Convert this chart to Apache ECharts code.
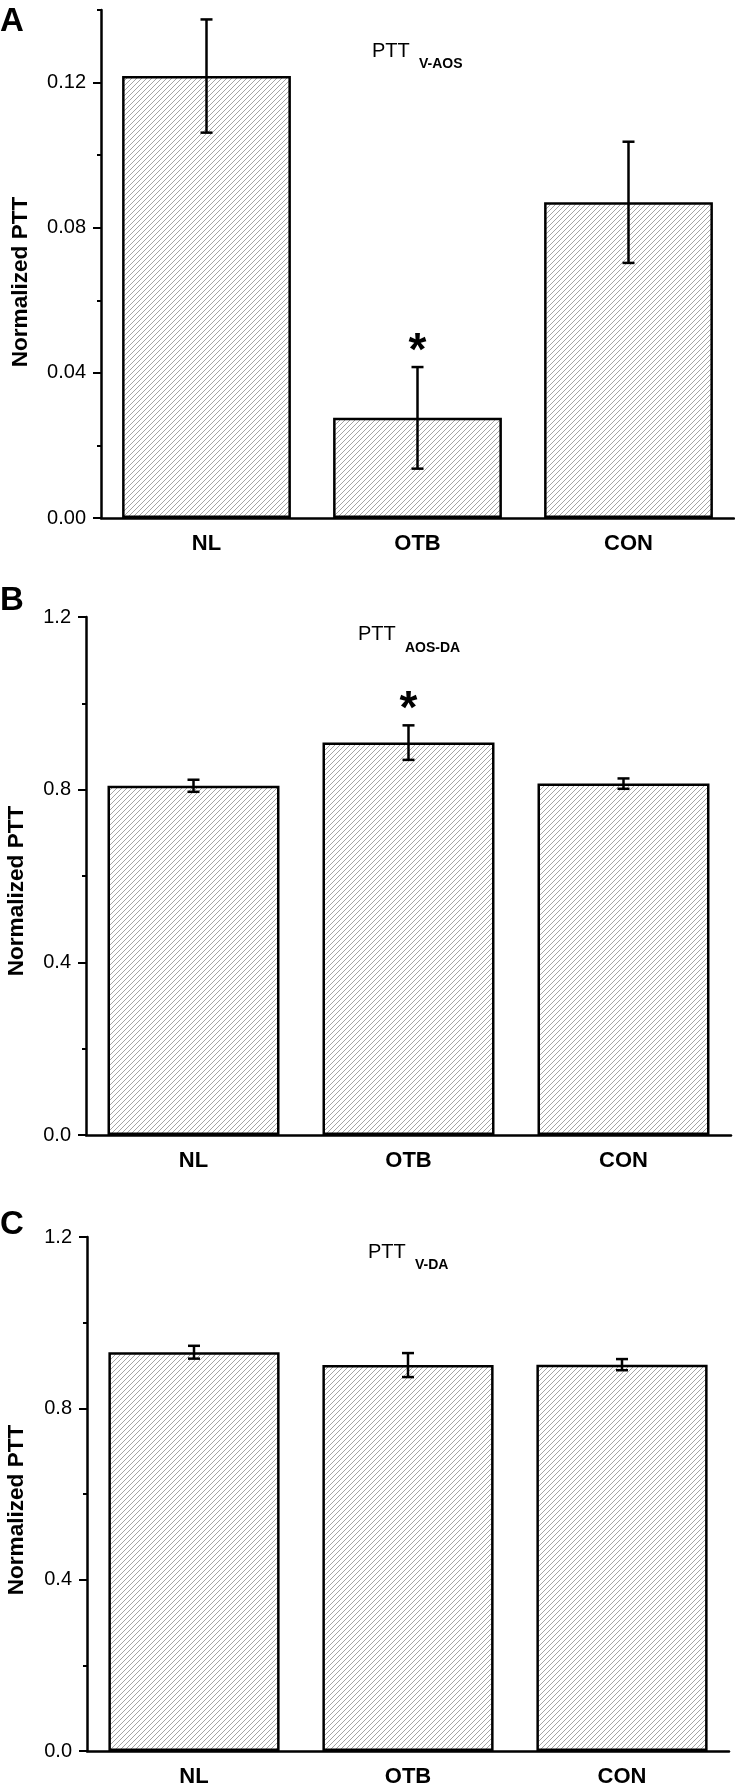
<!DOCTYPE html>
<html><head><meta charset="utf-8">
<script src="https://cdn.jsdelivr.net/npm/echarts@6/dist/echarts.min.js"></script>
<style>html,body{margin:0;padding:0;background:#fff}#c{width:735px;height:1788px}</style>
</head><body><div id="c"></div>
<script>
// ---------- data ----------
const categories = ['NL', 'OTB', 'CON'];
const meanA = [0.1218, 0.0276, 0.0870];
const errA  = [0.0156, 0.0140, 0.0167];
const sigA  = ['', '*', ''];
const meanB = [0.809, 0.909, 0.814];
const errB  = [0.014, 0.040, 0.012];
const sigB  = ['', '*', ''];
const meanC = [0.931, 0.901, 0.902];
const errC  = [0.015, 0.028, 0.013];
const sigC  = ['', '', ''];
const majorTicksA = [0, 0.04, 0.08, 0.12];
const minorTicksA = [0.02, 0.06, 0.10, 0.14];
const majorTicksBC = [0, 0.4, 0.8, 1.2];
const minorTicksBC = [0.2, 0.6, 1.0];
const panelLetters = ['A', 'B', 'C'];
const titleSubs = ['V-AOS', 'AOS-DA', 'V-DA'];
const yName = 'Normalized PTT';

// ---------- styling ----------
const FF = '"Liberation Sans", Arial, sans-serif';
function hatch() {
  const n = 5, c = document.createElement('canvas');
  c.width = n; c.height = n;
  const g = c.getContext('2d');
  g.fillStyle = '#fff'; g.fillRect(0, 0, n, n);
  g.strokeStyle = '#a4a4a4'; g.lineWidth = 1;
  g.beginPath();
  g.moveTo(0, n); g.lineTo(n, 0);
  g.moveTo(-1, 1); g.lineTo(1, -1);
  g.moveTo(n - 1, n + 1); g.lineTo(n + 1, n - 1);
  g.stroke();
  return c;
}
const pattern = { image: hatch(), repeat: 'repeat' };

const grids = [
  { left: 101, top: 10, width: 633, height: 508 },
  { left: 86, top: 617, width: 645, height: 518 },
  { left: 87, top: 1237, width: 642, height: 514 }
];
const yMax = [0.14, 1.2, 1.2];
const majors = [majorTicksA, majorTicksBC, majorTicksBC];
const minors = [minorTicksA, minorTicksBC, minorTicksBC];
const digits = [2, 1, 1];
const means = [meanA, meanB, meanC];
const errs = [errA, errB, errC];
const sigs = [sigA, sigB, sigC];

const xAxis = [], yAxis = [], series = [];
grids.forEach((g, k) => {
  xAxis.push({
    type: 'category', gridIndex: k, data: categories,
    axisLine: { lineStyle: { color: '#000', width: 2.5 } },
    axisTick: { alignWithLabel: true, length: 8, lineStyle: { color: '#000', width: 2.5 } },
    axisLabel: { color: '#000', fontFamily: FF, fontWeight: 'bold', fontSize: 22, margin: 15 },
    splitLine: { show: false }
  });
  yAxis.push({
    type: 'value', gridIndex: k, position: 'left', min: 0, max: yMax[k],
    axisLine: { show: true, lineStyle: { color: '#000', width: 2.5 } },
    axisTick: { show: true, length: 8, customValues: majors[k], lineStyle: { color: '#000', width: 2 } },
    axisLabel: { color: '#000', fontFamily: FF, fontSize: 20, margin: 15,
      customValues: majors[k], formatter: v => Number(v).toFixed(digits[k]) },
    splitLine: { show: false }
  });
  yAxis.push({
    type: 'value', gridIndex: k, position: 'left', offset: 0, min: 0, max: yMax[k],
    axisLine: { show: false },
    axisTick: { show: true, length: 4, customValues: minors[k], lineStyle: { color: '#000', width: 2 } },
    axisLabel: { show: false },
    splitLine: { show: false }
  });
  series.push({
    type: 'bar', xAxisIndex: k, yAxisIndex: 2 * k, barWidth: '80%',
    data: means[k],
    itemStyle: { color: pattern, borderColor: '#000', borderWidth: 2.5 },
    silent: true
  });
  const sig = sigs[k];
  series.push({
    type: 'custom', xAxisIndex: k, yAxisIndex: 2 * k, z: 5,
    data: means[k].map((m, i) => [i, m - errs[k][i], m + errs[k][i]]),
    encode: { x: 0, y: [1, 2] },
    renderItem: function (params, api) {
      const i = api.value(0);
      const lo = api.coord([i, api.value(1)]);
      const hi = api.coord([i, api.value(2)]);
      const w = 6;
      const st = { stroke: '#000', lineWidth: 2.5 };
      const ch = [
        { type: 'line', shape: { x1: hi[0], y1: hi[1], x2: lo[0], y2: lo[1] }, style: st },
        { type: 'line', shape: { x1: hi[0] - w, y1: hi[1], x2: hi[0] + w, y2: hi[1] }, style: st },
        { type: 'line', shape: { x1: lo[0] - w, y1: lo[1], x2: lo[0] + w, y2: lo[1] }, style: st }
      ];
      const s = sig[params.dataIndex];
      if (s) ch.push({ type: 'text', x: hi[0], y: hi[1] - 15,
        style: { text: s, font: 'bold 46px ' + FF, fill: '#000', textAlign: 'center', textVerticalAlign: 'middle' } });
      return { type: 'group', children: ch };
    }
  });
});

const graphic = [];
const letterY = [5, 584, 1208];
const nameY = [282, 891, 1510];
const nameX = [21, 17, 17];
const ptt = [[372, 51], [358, 634], [368, 1252]];
const sub = [[419, 64], [405, 648], [415, 1265]];
for (let k = 0; k < 3; k++) {
  graphic.push({ type: 'text', x: 0, y: letterY[k],
    style: { text: panelLetters[k], font: 'bold 33px ' + FF, fill: '#000', textAlign: 'left', textVerticalAlign: 'top' } });
  graphic.push({ type: 'text', x: nameX[k], y: nameY[k], rotation: Math.PI / 2,
    style: { text: yName, font: 'bold 22.6px ' + FF, fill: '#000', textAlign: 'center', textVerticalAlign: 'middle' } });
  graphic.push({ type: 'text', x: ptt[k][0], y: ptt[k][1],
    style: { text: 'PTT', font: '20px ' + FF, fill: '#000', textAlign: 'left', textVerticalAlign: 'middle' } });
  graphic.push({ type: 'text', x: sub[k][0], y: sub[k][1],
    style: { text: titleSubs[k], font: 'bold 14px ' + FF, fill: '#000', textAlign: 'left', textVerticalAlign: 'middle' } });
}

const chart = echarts.init(document.getElementById('c'), null, { renderer: 'canvas' });
chart.setOption({
  animation: false,
  backgroundColor: '#fff',
  grid: grids,
  xAxis, yAxis, series, graphic
});
</script>
</body></html>
